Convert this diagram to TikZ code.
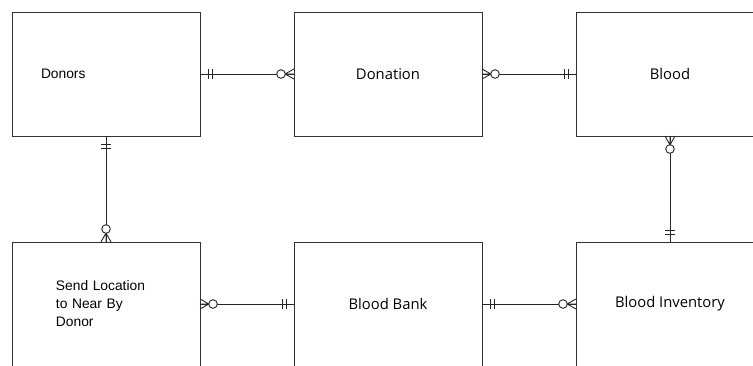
\documentclass[tikz,border=0pt]{standalone}
\usepackage{fontspec}
\newfontfamily\boxfont{Open Sans}
\newfontfamily\notefont{Liberation Sans}
\usetikzlibrary{
  positioning,
}
\tikzset{
  entity/.style = {
    rectangle,
    draw = black!80,
    line width = 1pt,
    minimum width = 188pt,
    minimum height = 124pt,
    inner sep = 0pt,
    outer sep = 0pt,
    align = center,
    font = \boxfont\fontsize{14.8}{18}\selectfont
  },
  note/.style = {
    text width = #1,
    align = left,
    font = \notefont\fontsize{13.8}{18}\selectfont
  },
  rel/.style = {
    draw = black!85,
    line width = 0.9pt
  },
  one/.pic = {
    \draw[rel] (8pt,-5pt) -- (8pt,5pt) (12pt,-5pt) -- (12pt,5pt);
  },
  many/.pic = {
    \draw[rel] (0pt,-5pt) -- (9pt,0pt) -- (0pt,5pt) (0pt,0pt) -- (9pt,0pt);
    \draw[rel, fill = white] (13pt,0pt) circle (4.3pt);
  },
}

\begin{document}
\begin{tikzpicture}[x = 1pt, y = 1pt, node distance = 94pt]
  \useasboundingbox (0,0) rectangle (753,-365);
  \clip (0,0) rectangle (753,-365);
  \fill[white] (0,0) rectangle (753,-365);
  % entities
  \node[entity, note = 130pt, anchor = north west] (donors) at (12,-12) {Donors};
  \node[entity, right = of donors] (donation) {Donation};
  \node[entity, right = of donation] (blood) {Blood};
  \node[entity, note = 100pt, below = 106pt of donors] (send)
  {Send Location\\to Near By\\Donor};
  \node[entity, right = of send] (bank) {Blood Bank};
  \node[entity, right = of bank] (inventory) {Blood Inventory};
  % relations
  \draw[rel] (donors) -- (donation);
  \draw[rel] (donation) -- (blood);
  \draw[rel] (blood) -- (inventory);
  \draw[rel] (donors) -- (send);
  \draw[rel] (send) -- (bank);
  \draw[rel] (bank) -- (inventory);
  \pic at (donors.east) {one};
  \pic[rotate = 180] at (donation.west) {many};
  \pic at (donation.east) {many};
  \pic[rotate = 180] at (blood.west) {one};
  \pic[rotate = -90] at (blood.south) {many};
  \pic[rotate = 90] at (inventory.north) {one};
  \pic[rotate = -90] at (donors.south) {one};
  \pic[rotate = 90] at (send.north) {many};
  \pic at (send.east) {many};
  \pic[rotate = 180] at (bank.west) {one};
  \pic at (bank.east) {one};
  \pic[rotate = 180] at (inventory.west) {many};
\end{tikzpicture}
\end{document}
